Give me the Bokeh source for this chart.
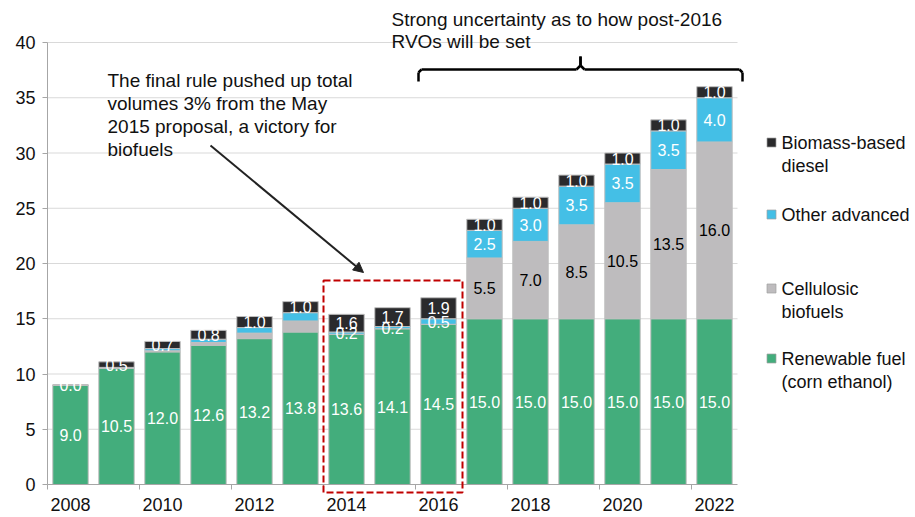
from bokeh.plotting import figure
from bokeh.models import Range1d, FixedTicker, Label, Arrow, NormalHead, PolyAnnotation, ColumnDataSource
from bokeh.core.properties import value
from bokeh.embed import file_html
from bokeh.resources import INLINE

# ---------------- data ----------------
years = list(range(2008, 2023))
renewable = [9.0, 10.5, 12.0, 12.6, 13.2, 13.8, 13.6, 14.1, 14.5, 15.0, 15.0, 15.0, 15.0, 15.0, 15.0]
cellulosic = [0.0, 0.0, 0.1, 0.25, 0.5, 1.0, 0.0, 0.0, 0.0, 5.5, 7.0, 8.5, 10.5, 13.5, 16.0]
other_adv = [0.0, 0.1, 0.2, 0.3, 0.5, 0.75, 0.2, 0.2, 0.5, 2.5, 3.0, 3.5, 3.5, 3.5, 4.0]
biomass = [0.0, 0.5, 0.65, 0.8, 1.0, 1.0, 1.6, 1.7, 1.9, 1.0, 1.0, 1.0, 1.0, 1.0, 1.0]
tick_years = [2008, 2010, 2012, 2014, 2016, 2018, 2020, 2022]
y_ticks = [0, 5, 10, 15, 20, 25, 30, 35, 40]
other_label_from = 2014
cell_label_from = 2017
legend_lines = [
    ["Biomass-based", "diesel"],
    ["Other advanced"],
    ["Cellulosic", "biofuels"],
    ["Renewable fuel", "(corn ethanol)"],
]
note_lines = ["The final rule pushed up total", "volumes 3% from the May",
              "2015 proposal, a victory for", "biofuels"]
top_lines = ["Strong uncertainty as to how post-2016", "RVOs will be set"]

# ---------------- styles ----------------
FONT = "Liberation Sans"
C_GREEN = "#43AD7C"
C_GRAY = "#BEBCBE"
C_BLUE = "#44BFE6"
C_DARK = "#2A2A2C"
C_EDGE = "#BFBFBF"
C_RED = "#C00000"
C_TXT = "#111111"

W, H = 915, 517
# plot area in canvas pixels
PL, PR, PT, PB = 47, 737, 42, 484
n = len(years)
XU = (PR - PL) / n
YU = (PB - PT) / 40.0


def X(px):
    return (px - PL) / XU - 0.5


def Y(py):
    return (PB - py) / YU


p = figure(width=W, height=H, x_range=Range1d(X(0), X(W)), y_range=Range1d(Y(H), Y(0)),
           output_backend="svg", toolbar_location=None,
           min_border_left=0, min_border_right=0, min_border_top=0, min_border_bottom=0)
p.outline_line_color = None
p.background_fill_color = "white"
p.border_fill_color = "white"
p.xgrid.visible = False
p.ygrid.visible = False

# gridlines
gl = [t for t in y_ticks if t > 0]
p.segment(x0=[-0.5] * len(gl), x1=[n - 0.5] * len(gl), y0=gl, y1=gl,
          line_color="#D9D9D9", line_width=1)

xs = list(range(n))
src = ColumnDataSource(dict(x=xs, ren=renewable, cel=cellulosic, oth=other_adv, bio=biomass))
p.vbar_stack(["ren", "cel", "oth", "bio"], x="x", width=0.77, source=src,
             fill_color=[C_GREEN, C_GRAY, C_BLUE, C_DARK], line_color=C_EDGE, line_width=1)

# segment labels
lx, ly, lt, lc = [], [], [], []
for i, yr in enumerate(years):
    b0 = 0.0
    segs = [(renewable[i], "white", True),
            (cellulosic[i], "black", yr >= cell_label_from),
            (other_adv[i], "white", yr >= other_label_from),
            (biomass[i], "white", True)]
    for v, col, show in segs:
        if show:
            lx.append(i)
            ly.append(b0 + v / 2.0)
            lt.append(f"{v:.1f}")
            lc.append(col)
        b0 += v
p.text(x="x", y="y", text="t", text_color="c", source=ColumnDataSource(dict(x=lx, y=ly, t=lt, c=lc)),
       text_font=value(FONT), text_font_size="16px", text_align="center", text_baseline="middle")

# axes (fixed inside the canvas-wide frame)
ya = p.yaxis[0]
ya.fixed_location = -0.5
ya.bounds = (0, 40)
ya.ticker = FixedTicker(ticks=y_ticks)
ya.axis_line_color = "#A6A6A6"
ya.major_tick_line_color = "#A6A6A6"
ya.major_tick_in = 0
ya.major_tick_out = 5
ya.minor_tick_line_color = None
ya.major_label_standoff = 7
ya.major_label_text_font = FONT
ya.major_label_text_font_size = "18px"
ya.major_label_text_color = C_TXT

xa = p.xaxis[0]
xa.fixed_location = 0
xa.bounds = (-0.5, n - 0.5)
tick_idx = [years.index(t) for t in tick_years]
xa.ticker = FixedTicker(ticks=tick_idx, minor_ticks=[i - 0.5 for i in tick_idx])
xa.major_label_overrides = {i: str(years[i]) for i in tick_idx}
xa.axis_line_color = "#A6A6A6"
xa.major_tick_line_color = None
xa.major_tick_in = 0
xa.major_tick_out = 0
xa.minor_tick_line_color = "#A6A6A6"
xa.minor_tick_in = 0
xa.minor_tick_out = 5
xa.major_label_standoff = 8
xa.major_label_text_font = FONT
xa.major_label_text_font_size = "18px"
xa.major_label_text_color = C_TXT

# legend
leg_colors = [C_DARK, C_BLUE, C_GRAY, C_GREEN]
leg_rows = [142, 214, 288, 358]
for col, lines, row in zip(leg_colors, legend_lines, leg_rows):
    cx, half = 771, 4.5
    p.add_layout(PolyAnnotation(xs=[X(cx - half), X(cx + half), X(cx + half), X(cx - half)],
                                ys=[Y(row - half), Y(row - half), Y(row + half), Y(row + half)],
                                fill_color=col, fill_alpha=1, line_color="#A0A0A0",
                                line_alpha=1, line_width=0.7))
    for k, line in enumerate(lines):
        p.add_layout(Label(x=X(781), y=Y(row + 23 * k), text=line, text_font=FONT,
                           text_font_size="18px", text_color=C_TXT,
                           text_align="left", text_baseline="middle"))

# note text and arrow
for k, line in enumerate(note_lines):
    p.add_layout(Label(x=X(107), y=Y(80 + 23 * k), text=line, text_font=FONT,
                       text_font_size="19px", text_color=C_TXT,
                       text_align="left", text_baseline="middle"))
p.add_layout(Arrow(x_start=X(210), y_start=Y(145), x_end=X(363), y_end=Y(272),
                   line_color="#222222", line_width=2,
                   end=NormalHead(size=10, fill_color="#222222", line_color="#222222")))

# top text
for k, line in enumerate(top_lines):
    p.add_layout(Label(x=X(391), y=Y(19 + 22 * k), text=line, text_font=FONT,
                       text_font_size="19px", text_color=C_TXT,
                       text_align="left", text_baseline="middle"))

# curly brace
brace_pts = [(418, 81), (418, 72), (421, 69), (576, 69), (580, 65), (580, 56),
             (580, 65), (584, 69), (739, 69), (742, 72), (742, 81)]
for (x0, y0), (x1, y1) in zip(brace_pts[:-1], brace_pts[1:]):
    p.add_layout(Arrow(x_start=X(x0), y_start=Y(y0), x_end=X(x1), y_end=Y(y1),
                       end=None, line_color="black", line_width=2.5))

# red dashed box
bx0, bx1, by0, by1 = 323, 462, 280, 492
p.add_layout(PolyAnnotation(xs=[X(bx0), X(bx1), X(bx1), X(bx0)],
                            ys=[Y(by0), Y(by0), Y(by1), Y(by1)],
                            fill_alpha=0, line_color=C_RED, line_alpha=1,
                            line_width=2, line_dash="7 3"))

open("out.html", "w").write(file_html(p, INLINE))
